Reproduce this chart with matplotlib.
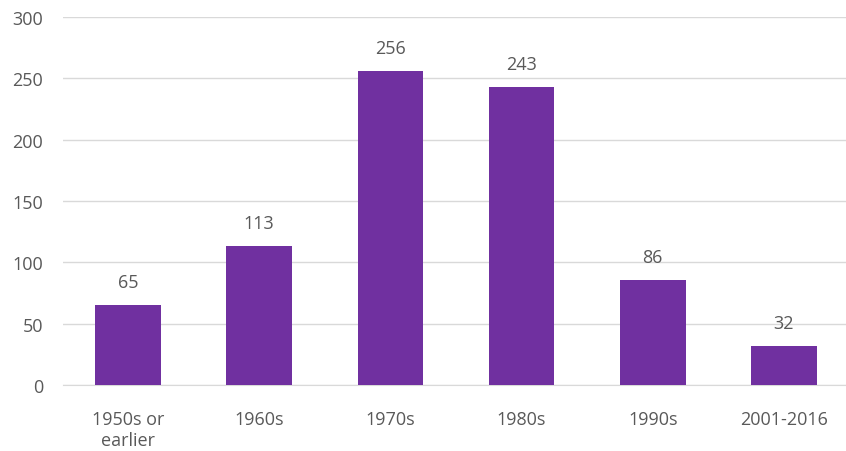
import matplotlib.pyplot as plt

decades = ['1950s or\nearlier', '1960s', '1970s', '1980s', '1990s', '2001-2016']
counts = [65, 113, 256, 243, 86, 32]

plt.rcParams['font.family'] = ['Open Sans', 'DejaVu Sans']
grey = '#595959'

fig = plt.figure(figsize=(8.46, 4.52), dpi=100)
ax = fig.add_axes([62.5/846, 66/452, 787/846, 368/452])

bars = ax.bar(range(len(decades)), counts, width=0.5, color='#7030A0', zorder=3)
for b, v in zip(bars, counts):
    ax.annotate(str(v), xy=(b.get_x() + b.get_width()/2, v), xytext=(0, 10),
                textcoords='offset points', ha='center', va='bottom',
                fontsize=13, color=grey)

ax.set_xlim(-0.5, len(decades) - 0.5)
ax.set_ylim(0, 300)
ax.set_yticks(range(0, 301, 50))
ax.set_xticks(range(len(decades)))
ax.set_xticklabels(decades)
ax.yaxis.grid(True, color='#d9d9d9', linewidth=1, zorder=0)
for s in ['top', 'right', 'left']:
    ax.spines[s].set_visible(False)
ax.spines['bottom'].set_color('#d9d9d9')
ax.tick_params(axis='both', length=0, labelsize=13, labelcolor=grey)
ax.tick_params(axis='x', pad=18)
ax.tick_params(axis='y', pad=14)

fig.savefig('out.png', dpi=100)
